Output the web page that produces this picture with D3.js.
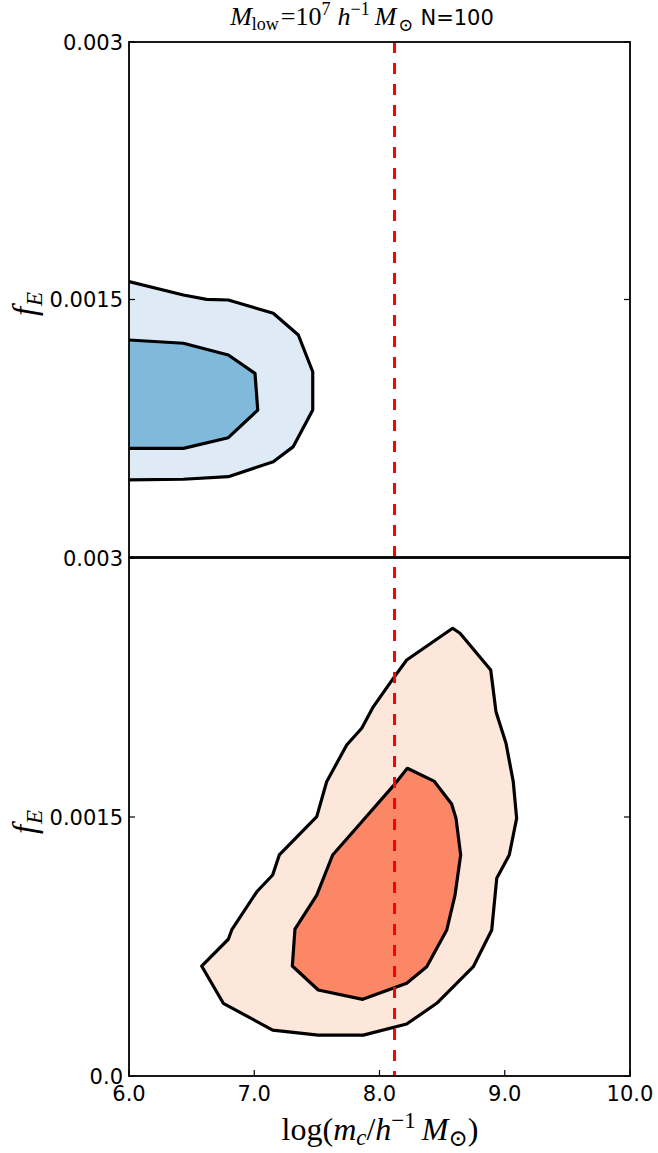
<!DOCTYPE html>
<html>
<head>
<meta charset="utf-8">
<script src="https://cdn.jsdelivr.net/npm/d3@7"></script>
<style>
  html, body { margin: 0; padding: 0; background: #fff; }
  svg { display: block; }
</style>
</head>
<body>
<svg id="chart" width="658" height="1153"></svg>
<script>
// Axis ranges and ticks
const xDomain = [6.0, 10.0];
const yDomain = [0.0, 0.003];
const xTicks = [6.0, 7.0, 8.0, 9.0, 10.0];
const xTickLabels = ["6.0", "7.0", "8.0", "9.0", "10.0"];
const yTicksTop = [0.0015, 0.003];
const yTickLabelsTop = ["0.0015", "0.003"];
const yTicksBottom = [0.0, 0.0015, 0.003];
const yTickLabelsBottom = ["0.0", "0.0015", "0.003"];

// Reference cutoff mass
const cutoffLogMass = 8.12;

// Upper panel: 95% and 68% credible contours  [log m_c, f_E]
const blueOuter = [
  [6.0, 0.001604], [6.434, 0.001526], [6.62, 0.001501], [6.793, 0.001497],
  [7.152, 0.00142], [7.352, 0.001293], [7.467, 0.001079], [7.467, 0.000856],
  [7.312, 0.000643], [7.152, 0.000555], [6.793, 0.000468], [6.434, 0.000453],
  [6.0, 0.000449]
];
const blueInner = [
  [6.0, 0.001264], [6.434, 0.001245], [6.793, 0.001177], [7.006, 0.00107],
  [7.028, 0.000856], [6.793, 0.000695], [6.434, 0.000633], [6.0, 0.000633]
];

// Lower panel: 95% and 68% credible contours  [log m_c, f_E]
const redOuter = [
  [8.584, 0.002593], [8.643, 0.002564], [8.888, 0.002351], [8.93, 0.00211],
  [9.01, 0.001927], [9.068, 0.001704], [9.095, 0.001492], [9.036, 0.00128],
  [8.936, 0.001145], [8.896, 0.000846], [8.749, 0.000633], [8.457, 0.000421],
  [8.217, 0.000301], [7.871, 0.000237], [7.511, 0.000237], [7.147, 0.000266],
  [6.753, 0.000421], [6.58, 0.000637], [6.793, 0.000792], [6.82, 0.000846],
  [7.02, 0.001067], [7.147, 0.001164], [7.2, 0.00128], [7.499, 0.001502],
  [7.578, 0.001704], [7.738, 0.001917], [7.858, 0.002014], [7.946, 0.002133],
  [8.11, 0.002303], [8.217, 0.002409]
];
const redInner = [
  [8.222, 0.001782], [8.435, 0.001708], [8.576, 0.001575], [8.611, 0.001492],
  [8.648, 0.00128], [8.603, 0.001048], [8.537, 0.000846], [8.377, 0.000633],
  [8.217, 0.000537], [7.866, 0.000444], [7.511, 0.000498], [7.304, 0.000637],
  [7.325, 0.00085], [7.499, 0.001048], [7.626, 0.00128], [7.871, 0.001483],
  [8.11, 0.00168]
];

const svg = d3.select("#chart");
const left = 129, right = 630;
const x = d3.scaleLinear().domain(xDomain).range([left, right]);
const yTop = d3.scaleLinear().domain(yDomain).range([557, 42]);
const yBot = d3.scaleLinear().domain(yDomain).range([1076, 558]);

const tickFont = "'DejaVu Sans', sans-serif";
const mathFont = "'Liberation Serif', 'DejaVu Serif', serif";

function contour(g, y, pts, fill, closedStroke) {
  const line = d3.line().x(d => x(d[0])).y(d => y(d[1]));
  g.append("path")
    .attr("d", line(pts) + "Z")
    .attr("fill", fill)
    .attr("stroke", "none");
  g.append("path")
    .attr("d", line(pts) + (closedStroke ? "Z" : ""))
    .attr("fill", "none")
    .attr("stroke", "#000")
    .attr("stroke-width", 3.2)
    .attr("stroke-linejoin", "round");
}

// Upper panel contours (clipped to the plot area)
svg.append("clipPath").attr("id", "clipTop")
  .append("rect").attr("x", left).attr("y", 42).attr("width", right - left).attr("height", 515);
const gTop = svg.append("g").attr("clip-path", "url(#clipTop)");
contour(gTop, yTop, blueOuter, "#deebf7", false);
contour(gTop, yTop, blueInner, "#80b9da", false);

// Lower panel contours
svg.append("clipPath").attr("id", "clipBot")
  .append("rect").attr("x", left).attr("y", 558).attr("width", right - left).attr("height", 518);
const gBot = svg.append("g").attr("clip-path", "url(#clipBot)");
contour(gBot, yBot, redOuter, "#fde6da", true);
contour(gBot, yBot, redInner, "#fb8767", true);

// Cutoff marker across both panels
svg.append("line")
  .attr("x1", x(cutoffLogMass)).attr("x2", x(cutoffLogMass))
  .attr("y1", yTop(yDomain[1])).attr("y2", yBot(yDomain[0]))
  .attr("stroke", "#ff0000")
  .attr("stroke-width", 3)
  .attr("stroke-dasharray", "11,10");

// Panel frames
function frame(y) {
  const [y0, y1] = y.range();
  svg.append("rect")
    .attr("x", left).attr("y", y1)
    .attr("width", right - left).attr("height", y0 - y1)
    .attr("fill", "none").attr("stroke", "#000").attr("stroke-width", 1.8);
}
frame(yTop);
frame(yBot);

// Y ticks (inward on both sides) and labels
function yAxis(y, ticks, labels) {
  const g = svg.append("g");
  ticks.forEach((t, i) => {
    g.append("line").attr("x1", left).attr("x2", left + 6)
      .attr("y1", y(t)).attr("y2", y(t)).attr("stroke", "#000").attr("stroke-width", 1.2);
    g.append("line").attr("x1", right).attr("x2", right - 6)
      .attr("y1", y(t)).attr("y2", y(t)).attr("stroke", "#000").attr("stroke-width", 1.2);
    g.append("text")
      .attr("x", left - 6).attr("y", y(t))
      .attr("dy", "0.36em")
      .attr("text-anchor", "end")
      .attr("font-family", tickFont).attr("font-size", 21)
      .text(labels[i]);
  });
}
yAxis(yTop, yTicksTop, yTickLabelsTop);
yAxis(yBot, yTicksBottom, yTickLabelsBottom);

// X ticks on the lower panel
const gx = svg.append("g");
xTicks.forEach((t, i) => {
  gx.append("line").attr("x1", x(t)).attr("x2", x(t))
    .attr("y1", 1076).attr("y2", 1070).attr("stroke", "#000").attr("stroke-width", 1.2);
  gx.append("text")
    .attr("x", x(t)).attr("y", 1101)
    .attr("text-anchor", "middle")
    .attr("font-family", tickFont).attr("font-size", 21)
    .text(xTickLabels[i]);
});

// Y axis labels: f_E
function fLabel(cy) {
  const t = svg.append("text")
    .attr("transform", `translate(36,${cy}) rotate(-90)`)
    .attr("text-anchor", "middle")
    .attr("font-family", mathFont).attr("font-size", 33);
  t.append("tspan").attr("font-style", "italic").text("f");
  t.append("tspan").attr("font-style", "italic").attr("font-size", 23).attr("dy", 6).attr("dx", 1).text("E");
}
fLabel(304);
fLabel(822);

// X axis label: log(m_c / h^-1 M_sun)
const xl = svg.append("text")
  .attr("x", 380).attr("y", 1140)
  .attr("text-anchor", "middle")
  .attr("font-family", mathFont).attr("font-size", 32);
xl.append("tspan").text("log(");
xl.append("tspan").attr("font-style", "italic").text("m");
xl.append("tspan").attr("font-style", "italic").attr("font-size", 23).attr("dy", 5).text("c");
xl.append("tspan").attr("dy", -5).text("/");
xl.append("tspan").attr("font-style", "italic").text("h");
xl.append("tspan").attr("font-size", 23).attr("dy", -12).text("−1");
xl.append("tspan").attr("font-style", "italic").attr("dy", 12).attr("dx", 6).text("M");
xl.append("tspan").attr("font-size", 23).attr("dy", 6).text("⊙");
xl.append("tspan").attr("dy", -6).text(")");

// Title
const tt = svg.append("text")
  .attr("x", 362).attr("y", 25)
  .attr("text-anchor", "middle")
  .attr("font-family", mathFont).attr("font-size", 26);
tt.append("tspan").attr("font-style", "italic").text("M");
tt.append("tspan").attr("font-size", 18).attr("dy", 5).text("low");
tt.append("tspan").attr("dy", -5).attr("dx", 2).text("=10");
tt.append("tspan").attr("font-size", 18).attr("dy", -10).text("7");
tt.append("tspan").attr("font-style", "italic").attr("dy", 10).attr("dx", 7).text("h");
tt.append("tspan").attr("font-size", 18).attr("dy", -10).text("−1");
tt.append("tspan").attr("font-style", "italic").attr("dy", 10).attr("dx", 5).text("M");
tt.append("tspan").attr("font-size", 18).attr("dy", 6).attr("dx", 2).text("⊙");
tt.append("tspan").attr("dy", -6).attr("dx", 7).attr("font-family", tickFont).attr("font-size", 21).text("N=100");
</script>
</body>
</html>
